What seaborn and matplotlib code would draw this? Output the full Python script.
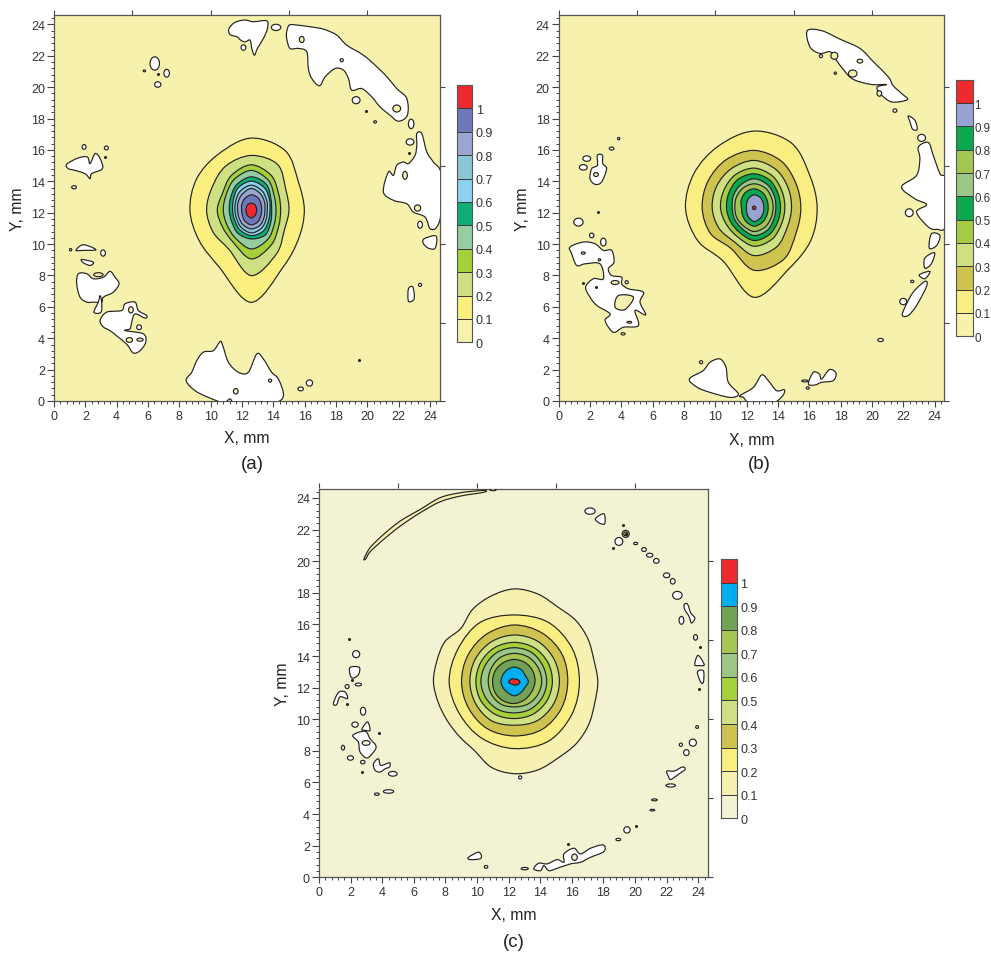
import numpy as np
import matplotlib
matplotlib.use("Agg")
import matplotlib.pyplot as plt
from matplotlib.colors import ListedColormap
from matplotlib.patches import Ellipse, PathPatch
from matplotlib.path import Path
import seaborn as sns

# ---------- scale values ----------
LEGEND_LEVELS = [0, 1, 2, 3, 4, 5, 6, 7, 8, 9, 10]
LEGEND_LABELS = ["0", "0.1", "0.2", "0.3", "0.4", "0.5", "0.6", "0.7", "0.8", "0.9", "1"]
X_TICKS = list(range(0, 25, 2))
OTHER_TICKS = [0, 5, 10, 15, 20]

A_COLORS = ["#F7F1AE", "#FBEF80", "#CFE083", "#A5CF3B", "#94CDA1", "#0FAE75",
            "#8CD2EE", "#8BC6D6", "#9AA5D2", "#6C78B8", "#EE2A2E"]
B_COLORS = ["#F7F1AE", "#F9EE82", "#CFC350", "#CFE083", "#A5CB44", "#0BA84F",
            "#9CC686", "#A3C653", "#0BA84F", "#98A3D2", "#EE2A2E"]
C_COLORS = ["#F3F2D3", "#F6F1B0", "#F9EE82", "#CFC350", "#CFE083", "#A5CF3B",
            "#9CC686", "#A5C653", "#72A255", "#00AEEF", "#EE2A2E"]

# ---------- contour rings: radius read counter-clockwise from east, in 1/47 mm ----------
A_CENTER = (12.59, 12.16)
A_RINGS = [
    [159, 164, 205, 216, 195, 189, 184, 181, 195, 276, 194, 165],
    [113, 120, 158, 164, 153, 136, 134, 132, 135, 196, 151, 115],
    [88, 95, 120, 136, 120, 100, 102, 100, 110, 146, 120, 95],
    [74, 80, 103, 119, 105, 88, 84, 85, 96, 116, 100, 80],
    [61, 68, 90, 100, 88, 72, 66, 68, 80, 86, 85, 68],
    [56, 63, 78, 87, 78, 62, 56, 58, 68, 76, 72, 60],
    [48, 54, 66, 75, 66, 54, 49, 51, 60, 68, 62, 52],
    [41, 46, 56, 65, 55, 46, 41, 43, 50, 56, 52, 44],
    [31, 34, 42, 46, 40, 33, 29, 31, 38, 44, 40, 33],
    [16, 17, 20, 21, 20, 17, 16, 17, 20, 23, 20, 17],
]
B_CENTER = (12.48, 12.31)
B_RINGS = [
    [189, 193, 224, 230, 214, 208, 206, 196, 185, 268, 210, 196],
    [140, 145, 162, 172, 167, 160, 156, 152, 140, 187, 178, 146],
    [112, 118, 132, 142, 136, 130, 126, 122, 118, 143, 135, 115],
    [92, 97, 110, 119, 114, 105, 101, 97, 100, 115, 108, 95],
    [79, 83, 95, 102, 98, 88, 83, 82, 86, 98, 92, 82],
    [65, 70, 80, 87, 80, 72, 66, 68, 72, 83, 78, 68],
    [57, 60, 68, 72, 68, 62, 58, 60, 63, 71, 66, 59],
    [42, 45, 52, 57, 53, 45, 38, 41, 48, 55, 50, 44],
    [29, 31, 36, 39, 33, 26, 23, 26, 33, 41, 36, 31],
    [5, 5, 5, 5, 5, 5, 5, 5, 5, 5, 5, 5],
]
C_CENTER = (12.36, 12.37)
C_RINGS = [
    [250, 247, 255, 260, 259, 272, 278, 266, 250, 226, 240, 240,
     242, 236, 232, 232, 238, 265, 275, 273, 263, 262, 257, 249],
    [195, 200, 205, 200, 205, 195, 195, 190, 195, 200, 205, 198],
    [160, 165, 168, 170, 165, 160, 158, 158, 162, 162, 165, 162],
    [135, 137, 140, 140, 138, 135, 133, 133, 135, 130, 135, 135],
    [114, 116, 118, 118, 118, 116, 115, 115, 113, 110, 112, 113],
    [97, 98, 102, 102, 102, 100, 100, 98, 96, 93, 95, 96],
    [82, 83, 85, 85, 84, 80, 78, 78, 78, 75, 78, 80],
    [62, 64, 66, 67, 66, 66, 65, 66, 66, 65, 62, 60],
    [42, 38, 42, 44, 42, 40, 40, 38, 38, 42, 38, 36],
    [17, 12, 9, 8, 10, 13, 17, 12, 9, 10, 11, 14],
]

# ---------- unfilled (below-threshold) regions, mm ----------
A_BLOBS = [
    [(11.17,23.74),(11.55,24.13),(12.19,24.28),(12.72,24.17),(13.57,24.23),(13.62,23.74),(13.36,23.1),(12.98,22.47),(12.79,22.04),(12.62,22.47),(12.51,23.0),(12.19,22.89),(11.91,23.0),(11.7,23.2),(11.23,23.36)],
    [(14.85,23.53),(15.02,23.96),(15.49,23.96),(16.34,23.85),(17.19,23.7),(18.04,23.32),(18.68,22.68),(19.74,22.04),(20.6,21.3),(21.34,20.55),(21.87,19.91),(22.51,19.28),(22.55,18.21),(21.98,17.83),(21.45,18.21),(20.81,18.74),(20.28,19.38),(19.64,19.91),(19.0,19.81),(18.79,20.55),(18.47,21.09),(17.94,21.19),(17.3,20.66),(16.94,20.09),(16.45,20.55),(16.23,21.19),(16.13,22.26),(15.6,22.47),(15.06,22.47),(14.85,23.11)],
    [(23.15,17.04),(23.47,17.04),(23.79,15.87),(24.21,15.23),(24.7,14.49),(24.7,12.04),(24.43,11.09),(24.0,10.98),(23.68,11.72),(22.94,12.04),(22.51,12.57),(21.66,12.79),(21.02,13.32),(21.34,14.6),(21.66,14.38),(21.87,15.02),(22.3,15.23),(22.62,15.13),(23.04,15.66),(23.15,16.3)],
    [(0.81,15.09),(1.55,15.49),(2.13,15.55),(2.3,15.13),(2.62,15.77),(2.94,15.45),(3.09,14.81),(2.4,14.49),(2.3,14.17),(1.98,14.49),(1.34,14.7),(0.91,14.81)],
    [(1.4,9.6),(1.87,9.96),(2.68,9.64),(1.87,9.6)],
    [(1.77,9.02),(2.51,8.85),(2.3,8.64),(1.87,8.81)],
    [(1.55,8.11),(2.09,8.11),(2.51,7.79),(3.15,7.89),(3.57,8.26),(3.89,7.89),(4.15,7.47),(3.79,6.94),(3.15,6.62),(3.04,6.3),(2.51,6.3),(2.09,6.3),(1.66,6.62),(1.45,7.47)],
    [(2.94,6.72),(3.04,6.3),(3.0,5.66),(2.55,5.66),(2.83,6.3)],
    [(2.94,5.13),(3.36,5.66),(4.32,5.77),(4.53,6.19),(5.17,6.3),(5.38,5.77),(5.91,5.45),(5.81,5.28),(5.17,5.55),(4.96,5.02),(4.85,4.6),(4.53,4.49),(5.7,4.28),(5.85,3.74),(5.49,3.21),(5.06,3.06),(4.64,3.62),(4.0,4.15),(3.57,4.49),(3.15,4.72)],
    [(8.43,1.3),(8.79,1.83),(9.11,2.57),(9.53,3.11),(10.17,3.21),(10.6,3.79),(10.77,3.53),(11.13,2.47),(11.77,1.83),(12.4,1.83),(12.94,3.0),(13.36,2.68),(13.89,1.83),(14.32,1.4),(14.64,0.34),(14.0,-0.1),(11.66,-0.1),(11.23,0.13),(10.81,-0.1),(9.85,0.23),(9.0,0.66)],
    [(22.62,7.15),(22.9,7.26),(22.98,6.51),(22.62,6.36)],
    [(23.62,10.34),(24.38,10.51),(24.32,9.74),(23.89,9.74),(23.57,10.04)],
]
A_SPOTS = [(6.43,21.51,.6,.85),(7.19,20.89,.35,.5),(6.62,20.17,.4,.35),(5.77,21.04,.15,.12),(14.17,23.81,.6,.4),(12.09,22.53,.3,.35),
           (19.28,19.17,.5,.45),(20.49,17.79,.18,.15),(22.79,17.66,.35,.6),(22.72,16.51,.5,.4),(1.92,16.19,.25,.3),(3.34,16.13,.25,.25),
           (1.28,13.62,.3,.2),(1.06,9.64,.15,.15),(3.13,9.43,.3,.4),(16.3,1.15,.4,.4),(15.74,.77,.35,.25),(23.36,11.23,.3,.45),(23.36,7.4,.2,.2),(5.43,4.7,.3,.3)]
A_HOLES = [(15.81,23.04,.3,.4),(21.87,18.64,.5,.45),(22.4,14.38,.3,.5),(23.2,12.3,.4,.4),(11.6,.62,.3,.35),(4.81,3.89,.4,.3),
           (5.49,3.91,.4,.2),(4.91,5.81,.3,.4),(2.83,8.05,.6,.25),(18.36,21.72,.2,.2),(13.79,1.3,.2,.2)]
A_DOTS = [(6.62,20.83),(19.89,18.49),(22.68,15.81),(3.23,15.57),(19.47,2.62)]

B_BLOBS = [
    [(15.87,23.6),(16.79,23.6),(17.96,23.06),(19.23,22.47),(20.09,21.62),(21.04,20.66),(21.36,20.09),(21.89,19.6),(22.26,19.21),(21.26,19.06),(20.51,19.6),(20.34,20.02),(20.94,20.17),(19.98,20.17),(18.91,20.45),(18.38,20.87),(17.64,21.83),(17.32,22.26),(16.68,22.15),(16.04,22.57)],
    [(22.32,18.17),(22.74,17.89),(22.89,17.32),(22.6,17.32),(22.43,17.79)],
    [(22.96,16.19),(23.6,16.47),(23.91,15.66),(24.34,14.49),(24.7,14.06),(24.7,11.19),(24.13,10.94),(23.6,11.09),(22.85,12.04),(23.49,12.51),(22.74,12.89),(21.89,13.64),(22.85,14.38),(23.06,15.45)],
    [(23.8,10.66),(24.34,10.55),(24.13,9.91),(23.66,9.74)],
    [(23.38,9.11),(24.0,9.45),(23.79,8.74),(23.38,8.47)],
    [(23.02,8.04),(23.7,8.26),(23.38,7.79)],
    [(22.64,6.94),(23.38,7.62),(23.49,7.32),(22.85,6.09),(22.32,5.45),(21.94,5.45),(22.11,5.98)],
    [(8.34,1.4),(9.23,1.94),(9.66,2.47),(10.3,2.68),(10.68,2.15),(10.83,1.19),(11.47,.45),(10.94,.23),(9.66,.55),(8.85,.87)],
    [(11.57,.34),(12.43,.87),(12.96,1.66),(13.38,1.3),(13.91,.66),(14.4,.72),(14.3,.34),(13.7,-.1),(12.21,-.1),(11.79,.23)],
    [(15.94,1.09),(16.26,1.83),(16.64,1.72),(16.79,1.4),(17.28,2.0),(17.7,1.79),(17.53,1.3),(16.79,1.19),(16.36,1.02)],
    [(.72,9.81),(1.57,10.13),(2.32,10.02),(2.85,9.6),(3.38,9.6),(3.53,8.85),(3.17,8.43),(3.38,8.0),(4.02,7.89),(4.02,7.47),(4.45,7.15),(5.4,6.94),(5.19,6.3),(5.55,5.49),(4.87,5.77),(5.09,4.81),(4.13,4.7),(3.49,4.38),(2.96,5.13),(3.28,5.55),(2.43,6.09),(2.0,6.62),(1.72,7.26),(2.21,7.79),(2.85,7.79),(2.64,8.74),(1.68,8.74),(1.15,8.64),(.83,9.38)],
    [(2.47,15.66),(2.79,15.66),(2.81,15.13),(3.06,14.81),(2.74,13.96),(2.32,13.81),(2.0,14.17),(2.11,14.81),(2.47,15.02)],
]
B_BLOB_HOLES = [[(3.6,5.98),(3.81,6.72),(4.77,6.62),(4.23,5.83)]]
B_SPOTS = [(23.17,16.77,.5,.45),(21.47,18.51,.25,.22),(22.0,6.34,.45,.4),(22.57,7.62,.2,.15),(20.55,3.89,.35,.2),(22.38,12.0,.5,.5),
           (15.72,1.28,.4,.12),(15.9,.83,.2,.15),(9.09,2.47,.2,.2),(1.26,11.4,.6,.5),(2.11,10.55,.28,.3),(2.85,10.13,.35,.5),(4.34,7.57,.2,.2),
           (4.11,4.28,.25,.15),(1.79,15.45,.5,.35),(1.57,14.89,.5,.35),(3.38,16.09,.3,.2),(3.83,16.72,.15,.15),(16.74,21.98,.2,.2),(17.66,20.89,.15,.15)]
B_HOLES = [(1.57,9.43,.25,.15),(2.6,9.0,.15,.15),(4.51,5.02,.3,.12),(3.6,7.55,.5,.25),(2.38,14.43,.3,.25),(19.23,21.66,.35,.25),
           (18.77,20.87,.55,.45),(17.6,22.0,.45,.45),(20.47,19.6,.3,.35)]
B_DOTS = [(2.38,7.28),(1.57,7.51),(2.49,12.04)]

C_BLOBS = [
    [(17.5,22.7),(18.03,23.0),(18.08,22.37),(17.72,22.43)],
    [(23.11,17.25),(23.32,17.29),(23.53,16.72),(23.79,16.4),(23.57,16.09),(23.42,16.51),(23.15,16.93)],
    [(23.78,13.45),(23.99,14.04),(24.38,13.45),(24.06,13.4)],
    [(23.95,13.0),(24.33,13.06),(24.33,12.35),(24.16,12.35)],
    [(1.97,13.28),(2.55,13.28),(2.49,12.81),(2.14,12.6),(1.97,12.81)],
    [(.91,10.99),(1.23,11.69),(1.65,11.73),(1.8,11.31),(1.33,11.42),(1.12,10.93)],
    [(2.71,9.37),(3.07,9.83),(3.23,9.3),(2.92,9.3)],
    [(2.14,8.99),(2.92,9.24),(3.23,8.77),(3.59,8.35),(3.53,8.03),(3.04,7.55),(2.6,7.93),(2.49,8.56)],
    [(3.45,7.19),(3.76,7.5),(3.91,7.08),(4.46,7.25),(4.46,6.98),(4.19,6.87),(3.87,6.66),(3.55,6.77)],
    [(9.47,1.27),(10.11,1.59),(10.25,1.2),(9.56,1.12)],
    [(13.59,.53),(13.91,.89),(14.44,.85),(15.07,1.12),(15.5,.95),(15.5,1.48),(16.13,1.84),(16.55,1.48),(17.19,1.84),(17.99,2.05),(18.03,1.63),(17.19,1.27),(16.55,.95),(15.92,.85),(15.07,.57),(14.55,.42),(14.23,.74),(14.02,.42)],
    [(22.01,6.72),(22.48,6.72),(23.0,6.98),(23.17,6.83),(22.79,6.55),(22.26,6.19),(22.11,6.4)],
]
C_SPOTS = [(17.15,23.17,.65,.4),(18.98,21.25,.5,.5),(20.04,21.12,.25,.15),(20.57,20.74,.3,.25),(20.93,20.38,.4,.25),(21.35,20.02,.35,.3),
           (22.0,19.11,.4,.3),(22.39,18.73,.3,.35),(22.68,17.84,.6,.5),(22.94,16.26,.3,.5),(23.83,15.18,.25,.35),(2.35,14.12,.45,.45),
           (2.49,12.2,.4,.18),(1.78,12.07,.25,.25),(2.79,10.51,.33,.5),(2.28,9.66,.4,.33),(1.52,8.2,.2,.3),(1.99,7.55,.38,.28),(2.77,7.29,.28,.22),
           (4.67,6.55,.55,.3),(4.4,5.43,.65,.22),(3.66,5.26,.3,.15),(12.73,6.32,.2,.2),(10.57,.66,.22,.18),(13.02,.55,.45,.15),
           (18.94,2.39,.3,.15),(19.49,3.0,.4,.4),(21.1,4.25,.3,.1),(21.23,4.9,.35,.12),(22.26,5.81,.6,.2),(23.25,7.89,.35,.38),(22.9,8.39,.2,.2),
           (23.66,8.52,.45,.45),(23.93,9.51,.18,.18)]
C_HOLES = [(2.98,8.5,.5,.3),(16.17,1.27,.35,.4)]
C_DOTS = [(19.26,22.26),(18.6,20.82),(24.14,14.6),(24.02,11.9),(1.9,15.07),(2.07,12.5),(1.8,10.99),(3.78,9.13),(2.69,6.66),(15.77,2.11),(20.08,3.25)]
C_CRESCENT = [(2.85,20.15),(3.23,20.85),(4.08,21.69),(5.14,22.54),(6.41,23.28),(7.67,24.02),(8.94,24.33),(10.42,24.48),(10.42,24.36),
              (8.94,24.12),(7.67,23.76),(6.41,23.07),(5.14,22.22),(4.08,21.37),(3.23,20.59),(2.96,20.15)]
C_UPPER_SPOTS = [(11.01,24.52,.4,.12),(12.28,24.65,.3,.1),(19.41,21.73,.45,.45)]
C_TARGET = (19.41, 21.73, .25, .25)

# ---------- drawing ----------
sns.set_theme(style="ticks")
plt.rcParams["font.family"] = ["Liberation Sans", "DejaVu Sans"]
W, H = 991, 954
INK = "#222222"
LW = 0.85
fig = plt.figure(figsize=(W / 100, H / 100), dpi=100, facecolor="white")


def px_axes(left, top, right, bottom):
    return fig.add_axes([left / W, 1 - bottom / H, (right - left) / W, (bottom - top) / H])


def smooth_path(points):
    p = np.asarray(points, dtype=float)
    n = len(p)
    verts, codes = [p[0]], [Path.MOVETO]
    for i in range(n):
        p0, p1, p2, p3 = p[i - 1], p[i], p[(i + 1) % n], p[(i + 2) % n]
        verts += [p1 + (p2 - p0) / 6, p2 - (p3 - p1) / 6, p2]
        codes += [Path.CURVE4] * 3
    return Path(verts, codes)


def ring_points(center, radii, units):
    r = np.asarray(radii, dtype=float) / units
    ang = np.deg2rad(np.linspace(0, 360, len(r), endpoint=False))
    return np.column_stack([center[0] + r * np.cos(ang), center[1] + r * np.sin(ang)])


def add_shape(ax, points, face, z):
    ax.add_patch(PathPatch(smooth_path(points), facecolor=face, edgecolor=INK, lw=LW, zorder=z))


def add_spots(ax, spots, face, z):
    for x, y, w, h in spots:
        ax.add_patch(Ellipse((x, y), w, h, facecolor=face, edgecolor=INK, lw=LW, zorder=z))


def add_dots(ax, dots):
    xs, ys = zip(*dots)
    ax.plot(xs, ys, ls="none", marker="o", ms=1.2, color=INK, zorder=6)


def panel(box, colors, center, rings, units, blobs, spots, holes, dots, xpad, ypad):
    ax = px_axes(*box)
    ax.set_facecolor(colors[0])
    ax.set_xlim(0, 24.6)
    ax.set_ylim(0, 24.6)
    for i, radii in enumerate(rings):
        add_shape(ax, ring_points(center, radii, units), colors[i + 1], 2 + i * 0.01)
    for b in blobs:
        add_shape(ax, b, "white", 3)
    add_spots(ax, spots, "white", 3)
    add_spots(ax, holes, colors[0], 4)
    add_dots(ax, dots)
    ax.set_xticks(X_TICKS)
    ax.set_yticks(X_TICKS)
    ax.set_xticks(np.arange(0, 24.6, 0.4), minor=True)
    ax.set_yticks(np.arange(0, 24.6, 0.4), minor=True)
    ax.tick_params(which="major", length=4.5, width=0.8, color="#444444", labelsize=9,
                   labelcolor="#333333", pad=2)
    ax.tick_params(which="minor", length=2.2, width=0.7, color="#444444")
    ax.tick_params(axis="y", which="major", length=5, pad=1.5)
    ax.set_xlabel("X, mm", fontsize=11.3, color=INK, labelpad=xpad)
    ax.set_ylabel("Y, mm", fontsize=11.3, color=INK, labelpad=ypad)
    for s in ax.spines.values():
        s.set_color("#555555")
        s.set_linewidth(0.9)
    for side in ("top", "right"):
        if side == "top":
            sec = ax.secondary_xaxis("top")
            sec.set_xticks(OTHER_TICKS)
            sec.set_xticklabels([])
        else:
            sec = ax.secondary_yaxis("right")
            sec.set_yticks(OTHER_TICKS)
            sec.set_yticklabels([])
        sec.tick_params(length=3.8, width=0.8, color="#444444", pad=0)
        for s in sec.spines.values():
            s.set_visible(False)
    return ax


def legend(box, colors, size=9.0, pad=2.5):
    cax = px_axes(*box)
    sns.heatmap(np.array(LEGEND_LEVELS)[:, None], cmap=ListedColormap(colors), vmin=-0.5, vmax=10.5,
                cbar=False, linewidths=0.6, linecolor="#3a3a3a", xticklabels=False, ax=cax)
    cax.set_ylim(0, 11)
    cax.yaxis.tick_right()
    cax.set_yticks(LEGEND_LEVELS)
    cax.set_yticklabels(LEGEND_LABELS, rotation=0, fontsize=size, color="#333333")
    cax.tick_params(axis="y", length=0, pad=pad)
    for s in cax.spines.values():
        s.set_visible(True)
        s.set_color("#555555")
        s.set_linewidth(0.8)


ax_a = panel((54, 16, 439.5, 402), A_COLORS, A_CENTER, A_RINGS, 47, A_BLOBS, A_SPOTS, A_HOLES, A_DOTS, 6, 4)
legend((456.7, 86, 472.3, 343.3), A_COLORS)
ax_b = panel((558.7, 16, 944, 402), B_COLORS, B_CENTER, B_RINGS, 47, B_BLOBS, B_SPOTS, B_HOLES, B_DOTS, 7, 4)
for h in B_BLOB_HOLES:
    add_shape(ax_b, h, B_COLORS[0], 4)
legend((956, 80.7, 972.7, 337.3), B_COLORS, size=8.3, pad=1.0)
ax_c = panel((319, 489.5, 707.7, 878.3), C_COLORS, C_CENTER, C_RINGS, 47.3, C_BLOBS, C_SPOTS, C_HOLES, C_DOTS, 6, 4)
add_shape(ax_c, C_CRESCENT, C_COLORS[1], 3)
add_spots(ax_c, C_UPPER_SPOTS, C_COLORS[1], 3)
add_spots(ax_c, [C_TARGET], C_COLORS[3], 4)
add_dots(ax_c, [C_TARGET[:2]])
legend((721, 560, 737, 819.3), C_COLORS)

for label, x, y in [("(a)", 252, 465), ("(b)", 759, 465), ("(c)", 514, 943)]:
    fig.text(x / W, 1 - y / H, label, fontsize=13.5, color=INK, ha="center", va="center")

fig.savefig("out.png", dpi=100, facecolor="white")
